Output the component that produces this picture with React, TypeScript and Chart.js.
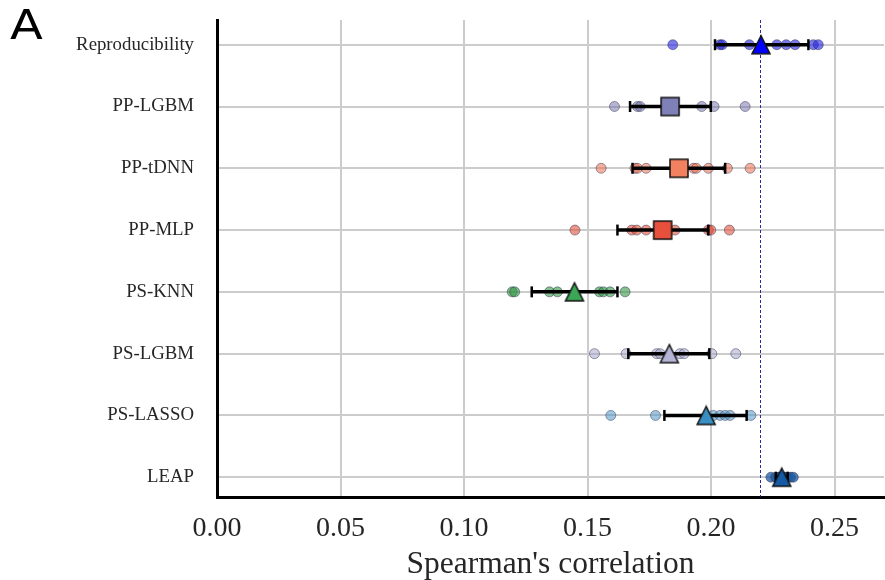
import React, { useEffect, useRef } from 'react';
import { Chart, registerables } from 'chart.js';

Chart.register(...registerables);

// ---------------- data ----------------
const models = ['Reproducibility', 'PP-LGBM', 'PP-tDNN', 'PP-MLP', 'PS-KNN', 'PS-LGBM', 'PS-LASSO', 'LEAP'];

const reproducibilityScores = [0.1845, 0.2036, 0.2045, 0.2155, 0.2266, 0.2304, 0.234, 0.2414, 0.2434];
const ppLgbmScores = [0.1609, 0.1702, 0.1713, 0.183, 0.1962, 0.2012, 0.2138];
const ppTdnnScores = [0.1555, 0.1692, 0.1702, 0.1737, 0.1929, 0.194, 0.1989, 0.2066, 0.2158];
const ppMlpScores = [0.1449, 0.1679, 0.1699, 0.1737, 0.1854, 0.1989, 0.1999, 0.2074];
const psKnnScores = [0.1195, 0.1205, 0.1346, 0.1378, 0.1548, 0.1564, 0.1591, 0.1652];
const psLgbmScores = [0.1528, 0.1656, 0.178, 0.1794, 0.1874, 0.1891, 0.2003, 0.21];
const psLassoScores = [0.1594, 0.1775, 0.2009, 0.2036, 0.2057, 0.2077, 0.2161];
const leapScores = [0.2242, 0.2262, 0.2275, 0.228, 0.229, 0.2298, 0.231, 0.2322, 0.2333];

const meanValues = [0.2202, 0.1834, 0.187, 0.1804, 0.1447, 0.1831, 0.198, 0.2286];
const errLow = [0.2016, 0.1672, 0.1682, 0.1621, 0.1274, 0.1665, 0.1811, 0.2262];
const errHigh = [0.2394, 0.1999, 0.2057, 0.1989, 0.1621, 0.1993, 0.2144, 0.231];

const referenceLine = 0.22;
const xTicks = [0, 0.05, 0.1, 0.15, 0.2, 0.25];
const xMin = 0;
const xMax = 0.27;
const xTitle = "Spearman's correlation";
const panelLabel = 'A';

const pointColors = [
  'rgba(40,40,225,0.62)',
  'rgba(110,110,170,0.5)',
  'rgba(235,110,80,0.55)',
  'rgba(225,80,60,0.6)',
  'rgba(50,150,70,0.6)',
  'rgba(160,160,200,0.5)',
  'rgba(80,150,200,0.55)',
  'rgba(30,90,160,0.75)',
];
const markerColors = ['#0000ff', '#8080b8', '#f2825f', '#e8503e', '#3aa656', '#b4b4d6', '#3a8fc2', '#165aa5'];
const markerShapes = ['triangle', 'square', 'square', 'square', 'triangle', 'triangle', 'triangle', 'triangle'];

const serif = '"Liberation Serif", "Times New Roman", serif';

function makeMarker(shape: string, fill: string): HTMLCanvasElement {
  const s = 18;
  const pad = 2;
  const dim = s + pad * 2;
  const c = document.createElement('canvas');
  c.width = dim;
  c.height = dim;
  const ctx = c.getContext('2d')!;
  ctx.fillStyle = fill;
  ctx.strokeStyle = '#111';
  ctx.lineWidth = 1.5;
  ctx.lineJoin = 'miter';
  ctx.beginPath();
  if (shape === 'triangle') {
    ctx.moveTo(dim / 2, pad);
    ctx.lineTo(pad, pad + s);
    ctx.lineTo(pad + s, pad + s);
    ctx.closePath();
  } else {
    ctx.rect(pad, pad, s, s);
  }
  ctx.fill();
  ctx.stroke();
  return c;
}

const annotations = {
  id: 'annotations',
  beforeDatasetsDraw(chart: any) {
    const { ctx, chartArea, scales } = chart;
    const x = Math.round(scales.x.getPixelForValue(referenceLine)) + 0.5;
    ctx.save();
    ctx.strokeStyle = 'rgba(20,20,150,0.9)';
    ctx.lineWidth = 1;
    ctx.setLineDash([3, 2]);
    ctx.beginPath();
    ctx.moveTo(x, chartArea.top);
    ctx.lineTo(x, chartArea.bottom);
    ctx.stroke();
    ctx.restore();
  },
  afterDraw(chart: any) {
    const { ctx } = chart;
    ctx.save();
    ctx.font = '41px "DejaVu Sans", "Liberation Sans", sans-serif';
    ctx.fillStyle = '#000';
    ctx.textBaseline = 'alphabetic';
    ctx.translate(10, 39);
    ctx.scale(1.17, 1);
    ctx.fillText(panelLabel, 0, 0);
    ctx.restore();
  },
};

export default function App() {
  const ref = useRef<HTMLCanvasElement | null>(null);

  useEffect(() => {
    if (!ref.current) return;
    const pointSets = [
      reproducibilityScores, ppLgbmScores, ppTdnnScores, ppMlpScores,
      psKnnScores, psLgbmScores, psLassoScores, leapScores,
    ];
    const datasets: any[] = [];
    models.forEach((m, i) => {
      datasets.push({
        type: 'scatter',
        label: m + ' runs',
        data: pointSets[i].map((v) => ({ x: v, y: i })),
        pointRadius: 5,
        pointBackgroundColor: pointColors[i],
        pointBorderColor: 'rgba(40,40,70,0.45)',
        pointBorderWidth: 1,
        order: 3,
      });
      datasets.push({
        type: 'line',
        label: m + ' error',
        data: [{ x: errLow[i], y: i }, { x: errHigh[i], y: i }],
        borderColor: '#000',
        borderWidth: 3.5,
        showLine: true,
        pointStyle: 'line',
        pointRotation: 90,
        pointRadius: 5.5,
        pointBorderWidth: 2.5,
        pointBorderColor: '#000',
        order: 2,
      });
      datasets.push({
        type: 'scatter',
        label: m + ' mean',
        data: [{ x: meanValues[i], y: i }],
        pointStyle: makeMarker(markerShapes[i], markerColors[i]),
        pointRadius: 10,
        order: 1,
      });
    });

    const gridColor = '#cccccc';
    const chart = new Chart(ref.current, {
      type: 'scatter',
      data: { datasets },
      options: {
        animation: false,
        responsive: false,
        events: [],
        layout: { autoPadding: false, padding: { top: 20, right: 1, bottom: 0, left: 0 } },
        plugins: { legend: { display: false }, tooltip: { enabled: false } },
        scales: {
          x: {
            type: 'linear',
            min: xMin,
            max: xMax,
            afterBuildTicks: (s: any) => { s.ticks = xTicks.map((v) => ({ value: v })); },
            afterFit: (s: any) => {
              s.height = 83;
              s.paddingLeft = 0;
              s.paddingRight = 0;
            },
            grid: { color: gridColor, lineWidth: 2, drawTicks: false },
            border: { display: true, color: '#000', width: 3 },
            ticks: {
              font: { family: serif, size: 28 },
              color: '#262626',
              padding: 15,
              maxRotation: 0,
              autoSkip: false,
              callback: (v: any) => Number(v).toFixed(2),
            },
            title: {
              display: true,
              text: xTitle,
              font: { family: serif, size: 31.5, lineHeight: 0.95 },
              color: '#262626',
              padding: { top: 0, bottom: 0 },
            },
          },
          y: {
            type: 'linear',
            reverse: true,
            min: -0.4,
            max: 7.32,
            afterBuildTicks: (s: any) => { s.ticks = models.map((_, i) => ({ value: i })); },
            afterFit: (s: any) => {
              s.width = 217;
              s.paddingTop = 0;
              s.paddingBottom = 0;
            },
            grid: { color: gridColor, lineWidth: 2, drawTicks: false },
            border: { display: true, color: '#000', width: 3 },
            ticks: {
              font: { family: serif, size: 18.8 },
              color: '#262626',
              padding: 23,
              autoSkip: false,
              callback: (v: any) => models[Math.round(Number(v))] ?? '',
            },
          },
        },
      },
      plugins: [annotations],
    } as any);
    return () => chart.destroy();
  }, []);

  return (
    <div style={{ position: 'absolute', left: 0, top: 0, width: 885, height: 580, background: '#fff' }}>
      <canvas ref={ref} width={885} height={580} style={{ display: 'block' }} />
    </div>
  );
}
